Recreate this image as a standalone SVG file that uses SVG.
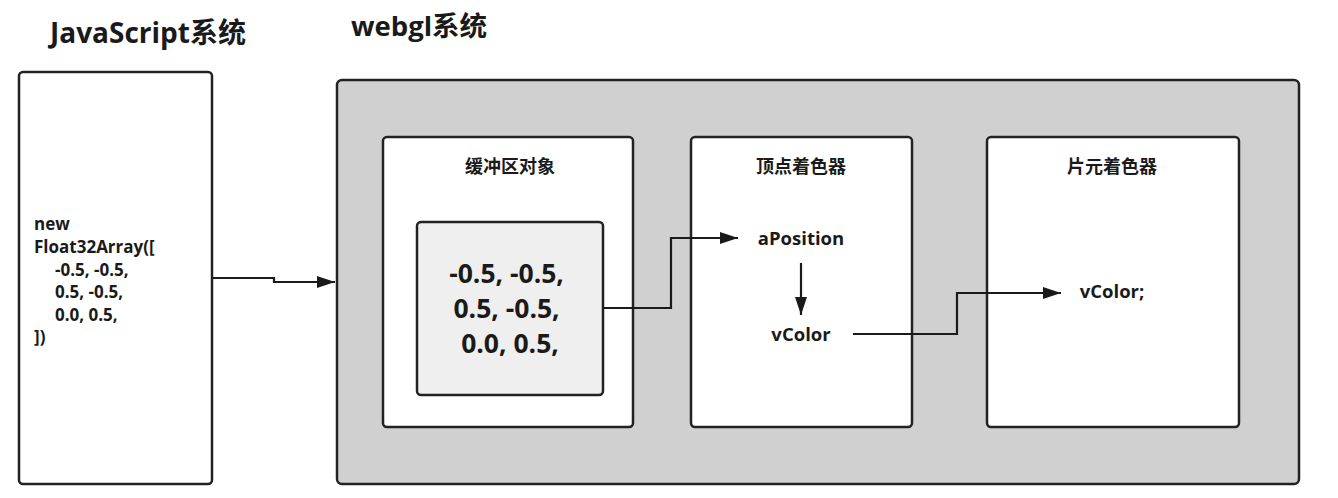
<svg xmlns="http://www.w3.org/2000/svg" width="1338" height="498" viewBox="0 0 1338 498">
<style>
.box{stroke:#222;stroke-width:2.5;}
.t{font-family:"Open Sans","Noto Sans CJK SC",sans-serif;font-weight:bold;fill:#1a1a1a;}
.ln{fill:none;stroke:#1a1a1a;stroke-width:2.2;}
</style>
<defs>
<marker id="ah" viewBox="0 0 18 12" refX="18" refY="6" markerWidth="18" markerHeight="12" markerUnits="userSpaceOnUse" orient="auto">
<path d="M0,0 L18,6 L0,12 Z" fill="#1a1a1a"/>
</marker>
</defs>
<rect width="1338" height="498" fill="#fff"/>
<g id="title-js"><text class="t" x="50" y="43" font-size="28">JavaScript系统</text></g>
<g id="title-webgl"><text class="t" x="351" y="36" font-size="27.5">webgl系统</text></g>
<g id="js-system">
<rect class="box" x="19" y="72" width="193" height="412" rx="4" fill="#fff"/>
<text class="t" font-size="17">
<tspan x="34" y="230">new</tspan>
<tspan x="34" y="253">Float32Array([</tspan>
<tspan x="55" y="276">-0.5, -0.5,</tspan>
<tspan x="55" y="298">0.5, -0.5,</tspan>
<tspan x="55" y="321">0.0, 0.5,</tspan>
<tspan x="34" y="343">])</tspan>
</text>
</g>
<g id="webgl-system">
<rect class="box" x="337" y="80" width="962" height="404" rx="5" fill="#d0d0d0"/>
</g>
<g id="buffer-object">
<rect class="box" x="383" y="137" width="250" height="290" rx="4" fill="#fff"/>
<text class="t" x="510" y="173" font-size="18" text-anchor="middle">缓冲区对象</text>
</g>
<g id="buffer-data">
<rect class="box" x="417" y="222" width="186" height="173" rx="4" fill="#efefef"/>
<text class="t" font-size="26.5" text-anchor="middle">
<tspan x="510" y="283">-0.5, -0.5,</tspan>
<tspan x="510" y="318">0.5, -0.5,</tspan>
<tspan x="510" y="353">0.0, 0.5,</tspan>
</text>
</g>
<g id="vertex-shader">
<rect class="box" x="691" y="137" width="221" height="290" rx="4" fill="#fff"/>
<text class="t" x="801" y="173" font-size="18" text-anchor="middle">顶点着色器</text>
<text class="t" x="801" y="245" font-size="18.5" text-anchor="middle">aPosition</text>
<text class="t" x="801" y="341" font-size="18.5" text-anchor="middle">vColor</text>
</g>
<g id="fragment-shader">
<rect class="box" x="987" y="137" width="252" height="290" rx="4" fill="#fff"/>
<text class="t" x="1112" y="173" font-size="18" text-anchor="middle">片元着色器</text>
<text class="t" x="1112" y="298" font-size="18.5" text-anchor="middle">vColor;</text>
</g>
<g id="connectors">
<path class="ln" d="M213,278 H274 V282 H335" marker-end="url(#ah)"/>
<path class="ln" d="M603,308 H671 V238 H738" marker-end="url(#ah)"/>
<path class="ln" d="M801,263 V315" marker-end="url(#ah)"/>
<path class="ln" d="M853,334 H957 V293 H1061" marker-end="url(#ah)"/>
</g>
</svg>
